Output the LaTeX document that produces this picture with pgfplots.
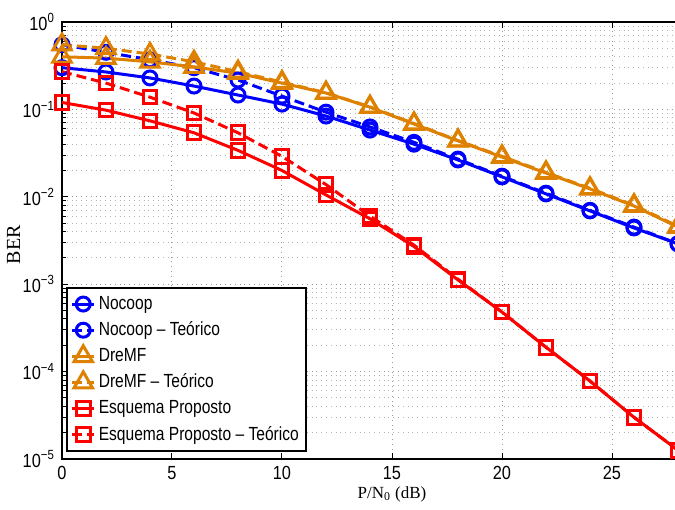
\documentclass[border=0pt]{standalone}
\usepackage{fontspec}
\setmainfont{Liberation Sans}[FakeStretch=0.86]
\newfontfamily\legfont{Liberation Sans}[FakeStretch=0.82]
\newfontfamily\seriffont{Liberation Serif}
\usepackage{pgfplots}
\pgfplotsset{compat=1.18}
\usetikzlibrary{calc}
\definecolor{mblue}{RGB}{0,0,255}
\definecolor{morange}{RGB}{222,128,0}
\definecolor{mred}{RGB}{255,0,0}

\begin{document}
\begin{tikzpicture}
\begin{axis}[
    name=ax, at={(0,0)}, anchor=south west,
    scale only axis, width=330pt, height=218.5pt,
    xmin=0, xmax=30,
    ymode=log, ymin=1e-5, ymax=1,
    xtick={0,5,...,25},
    ytick={1e-5,1e-4,1e-3,1e-2,1e-1,1},
    yticklabels={10\textsuperscript{−5},10\textsuperscript{−4},10\textsuperscript{−3},10\textsuperscript{−2},10\textsuperscript{−1},10\textsuperscript{0}},
    /pgf/number format/assume math mode=true,
    ticklabel style={font=\fontsize{9.5}{9.5}\selectfont},
    tick align=inside,
    major tick length=3pt, minor tick length=1.8pt,
    tick style={black, line width=0.5pt},
    axis line style={black, line width=1pt},
    grid=major, yminorgrids=true,
    major grid style={gray!80, dotted, line width=0.5pt},
    minor grid style={gray!60, dotted, line width=0.5pt},
    xlabel={P/N\textsubscript{0} (dB)},
    ylabel={BER},
    xlabel style={font=\seriffont\fontsize{8.5}{9}\selectfont, at={(axis description cs:0.5,-0.08)}, anchor=center},
    ylabel style={font=\seriffont\fontsize{10}{10}\selectfont, at={(axis description cs:-0.0735,0.49)}, anchor=center},
    clip=false,
    every axis plot/.append style={line width=1.5pt},
    legend style={at={(axis description cs:0.006,0.016)}, anchor=south west,
        draw=black, line width=0.8pt, fill=white,
        font=\legfont\fontsize{9.5}{9.5}\selectfont, inner xsep=2pt, inner ysep=2pt,
        row sep=0.8pt, cells={anchor=west}, nodes={inner xsep=1.5pt}},
    legend image code/.code={
        \draw[mark repeat=2, mark phase=2, #1] plot coordinates {(0pt,0pt) (5.5pt,0pt) (11pt,0pt)};
    },
]
% Nocoop
\addplot[mblue, mark=o, mark size=3.5pt] coordinates {
(0,0.30) (2,0.268) (4,0.229) (6,0.185) (8,0.146) (10,0.115) (12,0.084) (14,0.058)
(16,0.040) (18,0.0264) (20,0.0169) (22,0.0108) (24,0.0069) (26,0.0044) (28,0.0029)};
\addlegendentry{Nocoop}
\addplot[mblue, dash pattern=on 5pt off 2.5pt, mark=o, mark size=3.5pt, mark options={solid}] coordinates {
(0,0.55) (2,0.45) (4,0.37) (6,0.30) (8,0.217) (10,0.142) (12,0.093) (14,0.063)
(16,0.042) (18,0.027) (20,0.0172) (22,0.011) (24,0.0070) (26,0.0045) (28,0.0029)};
\addlegendentry{Nocoop – Teórico}
% DreMF
\addplot[morange, mark=triangle, mark size=5.3pt] coordinates {
(0,0.40) (2,0.386) (4,0.35) (6,0.306) (8,0.26) (10,0.20) (12,0.154) (14,0.106)
(16,0.068) (18,0.0436) (20,0.0285) (22,0.0187) (24,0.0123) (26,0.00785) (28,0.0045)};
\addlegendentry{DreMF}
\addplot[morange, dash pattern=on 5pt off 2.5pt, mark=triangle, mark size=5.3pt, mark options={solid}] coordinates {
(0,0.55) (2,0.50) (4,0.43) (6,0.35) (8,0.27) (10,0.205) (12,0.155) (14,0.107)
(16,0.069) (18,0.044) (20,0.029) (22,0.019) (24,0.0125) (26,0.008) (28,0.0046)};
\addlegendentry{DreMF – Teórico}
% Esquema Proposto
\addplot[mred, mark=square, mark size=3.4pt] coordinates {
(0,0.12) (2,0.098) (4,0.074) (6,0.054) (8,0.034) (10,0.020) (12,0.0105) (14,0.0056)
(16,0.0027) (18,0.00112) (20,0.00048) (22,0.00019) (24,7.8e-5) (26,3.0e-5) (28,1.26e-5)};
\addlegendentry{Esquema Proposto}
\addplot[mred, dash pattern=on 5pt off 2.5pt, mark=square, mark size=3.4pt, mark options={solid}] coordinates {
(0,0.27) (2,0.20) (4,0.138) (6,0.091) (8,0.054) (10,0.029) (12,0.0138) (14,0.006)
(16,0.0028) (18,0.00114) (20,0.00048) (22,0.00019) (24,7.8e-5) (26,3.0e-5) (28,1.26e-5)};
\addlegendentry{Esquema Proposto – Teórico}
\end{axis}
\pgfresetboundingbox
\path[use as bounding box] ($(ax.south west)+(-31pt,-25pt)$) rectangle ($(ax.south west)+(306.5pt,229.5pt)$);
\end{tikzpicture}
\end{document}
